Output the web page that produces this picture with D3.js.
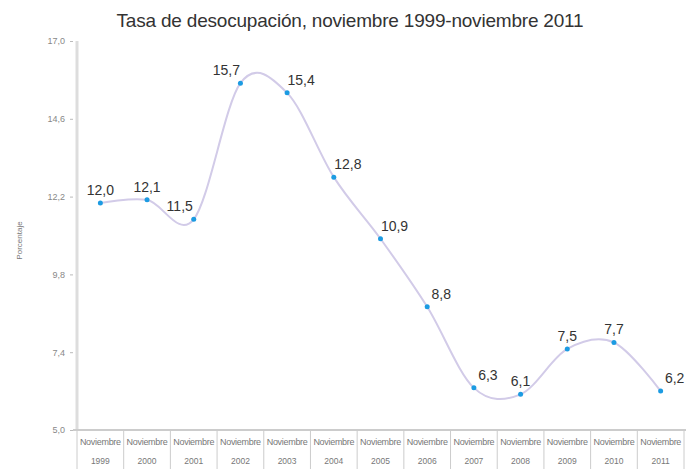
<!DOCTYPE html>
<html>
<head>
<meta charset="utf-8">
<script src="https://cdn.jsdelivr.net/npm/d3@7"></script>
<style>
  body { margin: 0; background: #fff; }
  svg text { font-family: "Liberation Sans", Arial, sans-serif; }
</style>
</head>
<body>
<div id="chart"></div>
<script>
// data
const years = ["1999", "2000", "2001", "2002", "2003", "2004", "2005", "2006", "2007", "2008", "2009", "2010", "2011"];
const rates = [12.0, 12.1, 11.5, 15.7, 15.4, 12.8, 10.9, 8.8, 6.3, 6.1, 7.5, 7.7, 6.2];
const yTicks = [5.0, 7.4, 9.8, 12.2, 14.6, 17.0];
// label offset side per point: 1 = right, 0 = centre, -1 = left
const labelSide = [0, 0, -1, -1, 1, 1, 1, 1, 1, 0, 0, 0, 1];

const width = 694, height = 469;
const margin = { top: 41, right: 10, bottom: 39, left: 77 };

const fmt = v => d3.format(".1f")(v).replace(".", ",");

const svg = d3.select("#chart").append("svg")
    .attr("width", width)
    .attr("height", height);

const x = d3.scaleBand()
    .domain(years)
    .range([margin.left, 684]);

const y = d3.scaleLinear()
    .domain([5, 17])
    .range([height - margin.bottom, margin.top]);

// title
svg.append("text")
    .attr("x", 350)
    .attr("y", 27)
    .attr("text-anchor", "middle")
    .style("font-size", "19px")
    .style("fill", "#333")
    .style("letter-spacing", "-0.2px")
    .text("Tasa de desocupación, noviembre 1999-noviembre 2011");

// y axis
const yAxis = svg.append("g")
    .attr("transform", "translate(" + (margin.left - 4) + ",0)")
    .call(d3.axisLeft(y).tickValues(yTicks).tickSize(3).tickFormat(fmt));
yAxis.select(".domain").remove();
yAxis.selectAll("line").attr("stroke", "#bbb");
yAxis.selectAll("text")
    .style("font-size", "9px")
    .style("fill", "#888")
    .attr("dx", "-2");

svg.append("line")
    .attr("x1", margin.left).attr("x2", margin.left)
    .attr("y1", y(17)).attr("y2", y(5))
    .attr("stroke", "#ddd")
    .attr("stroke-width", 3);

svg.append("text")
    .attr("transform", "translate(22," + ((y(5) + y(17)) / 2 + 5) + ") rotate(-90)")
    .attr("text-anchor", "middle")
    .style("font-size", "8px")
    .style("fill", "#777")
    .text("Porcentaje");

// category table at the bottom
svg.append("line")
    .attr("x1", margin.left - 4).attr("x2", 686)
    .attr("y1", y(5)).attr("y2", y(5))
    .attr("stroke", "#ccc")
    .attr("stroke-width", 2);

const cells = svg.selectAll(".cell")
    .data(years)
    .enter()
    .append("g")
    .attr("class", "cell");

cells.append("line")
    .attr("x1", d => x(d)).attr("x2", d => x(d))
    .attr("y1", y(5)).attr("y2", height)
    .attr("stroke", "#ccc");

cells.append("text")
    .attr("x", d => x(d) + x.bandwidth() / 2)
    .attr("y", y(5) + 15)
    .attr("text-anchor", "middle")
    .style("font-size", "9px")
    .style("fill", "#777")
    .style("letter-spacing", "-0.3px")
    .text("Noviembre");

cells.append("text")
    .attr("x", d => x(d) + x.bandwidth() / 2)
    .attr("y", y(5) + 34)
    .attr("text-anchor", "middle")
    .style("font-size", "8.5px")
    .style("fill", "#777")
    .text(d => d);

svg.append("line")
    .attr("x1", x.range()[1]).attr("x2", x.range()[1])
    .attr("y1", y(5)).attr("y2", height)
    .attr("stroke", "#ccc");

// smoothed line
const points = years.map((yr, i) => ({ year: yr, value: rates[i], side: labelSide[i] }));
const cx = d => x(d.year) + x.bandwidth() / 2;

svg.append("path")
    .datum(points)
    .attr("fill", "none")
    .attr("stroke", "#d2cbe8")
    .attr("stroke-width", 2)
    .attr("d", d3.line()
        .x(cx)
        .y(d => y(d.value))
        .curve(d3.curveCardinal.tension(0)));

svg.selectAll(".dot")
    .data(points)
    .enter()
    .append("circle")
    .attr("class", "dot")
    .attr("cx", cx)
    .attr("cy", d => y(d.value))
    .attr("r", 2.5)
    .attr("fill", "#1c9be2");

svg.selectAll(".value-label")
    .data(points)
    .enter()
    .append("text")
    .attr("class", "value-label")
    .attr("x", d => cx(d) + d.side * 14)
    .attr("y", d => y(d.value) - 8)
    .attr("text-anchor", "middle")
    .style("font-size", "14px")
    .style("fill", "#333")
    .text(d => fmt(d.value));
</script>
</body>
</html>
